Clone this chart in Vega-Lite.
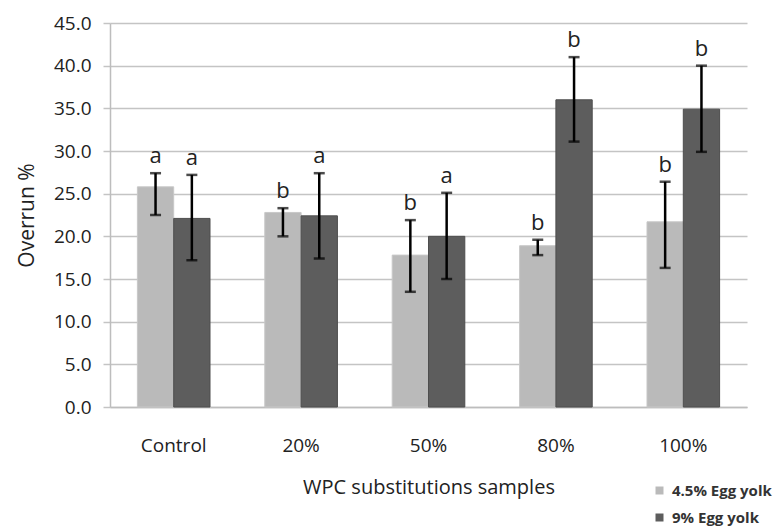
{
  "$schema": "https://vega.github.io/schema/vega-lite/v6.json",
  "autosize": {"type": "none"},
  "padding": {"left": 110, "top": 23, "right": 35, "bottom": 123},
  "width": 637,
  "height": 384,
  "background": "white",
  "data": {
    "values": [
      {"sample": "Control", "series": "4.5% Egg yolk", "value": 25.8, "lo": 22.5, "hi": 27.4, "letter": "a"},
      {"sample": "Control", "series": "9% Egg yolk", "value": 22.1, "lo": 17.2, "hi": 27.2, "letter": "a"},
      {"sample": "20%", "series": "4.5% Egg yolk", "value": 22.8, "lo": 20.0, "hi": 23.3, "letter": "b"},
      {"sample": "20%", "series": "9% Egg yolk", "value": 22.4, "lo": 17.4, "hi": 27.4, "letter": "a"},
      {"sample": "50%", "series": "4.5% Egg yolk", "value": 17.8, "lo": 13.5, "hi": 21.9, "letter": "b"},
      {"sample": "50%", "series": "9% Egg yolk", "value": 20.0, "lo": 15.0, "hi": 25.1, "letter": "a"},
      {"sample": "80%", "series": "4.5% Egg yolk", "value": 18.9, "lo": 17.8, "hi": 19.6, "letter": "b"},
      {"sample": "80%", "series": "9% Egg yolk", "value": 36.0, "lo": 31.1, "hi": 41.0, "letter": "b"},
      {"sample": "100%", "series": "4.5% Egg yolk", "value": 21.7, "lo": 16.3, "hi": 26.4, "letter": "b"},
      {"sample": "100%", "series": "9% Egg yolk", "value": 34.9, "lo": 29.9, "hi": 40.0, "letter": "b"}
    ]
  },
  "config": {
    "view": {"stroke": null},
    "font": "Open Sans",
    "axis": {"labelColor": "#222", "titleColor": "#222", "labelFont": "Open Sans", "titleFont": "Open Sans"}
  },
  "encoding": {
    "x": {
      "field": "sample", "type": "nominal",
      "sort": ["Control", "20%", "50%", "80%", "100%"],
      "scale": {"paddingInner": 0.43, "paddingOuter": 0.215},
      "axis": {
        "title": "WPC  substitutions samples", "labelAngle": 0, "ticks": false,
        "labelFontSize": 19, "labelPadding": 29, "titleFontSize": 20, "titleFontWeight": "normal",
        "titlePadding": 22, "domainColor": "#bdbdbd", "domainWidth": 1.5, "grid": false
      }
    },
    "xOffset": {"field": "series", "type": "nominal", "sort": ["4.5% Egg yolk", "9% Egg yolk"], "scale": {"paddingInner": 0, "paddingOuter": 0}}
  },
  "layer": [
    {
      "mark": {"type": "bar", "strokeWidth": 1},
      "encoding": {
        "y": {
          "field": "value", "type": "quantitative",
          "scale": {"domain": [0, 45], "nice": false},
          "axis": {
            "title": "Overrun %", "values": [0, 5, 10, 15, 20, 25, 30, 35, 40, 45], "format": ".1f",
            "labelFontSize": 19, "titleFontSize": 21, "titleFontWeight": "normal", "titlePadding": 16,
            "tickSize": 7, "tickColor": "#c4c4c4", "tickWidth": 1.5, "labelPadding": 12,
            "gridColor": "#c4c4c4", "gridWidth": 1.5, "domainColor": "#bdbdbd", "domainWidth": 1.5
          }
        },
        "color": {
          "field": "series", "type": "nominal",
          "scale": {"domain": ["4.5% Egg yolk", "9% Egg yolk"], "range": ["#bababa", "#5d5d5d"]},
          "legend": {
            "title": null, "orient": "none", "legendX": 542, "legendY": 460,
            "symbolType": "square", "symbolSize": 64, "symbolStrokeWidth": 0,
            "labelFontSize": 15, "labelFontWeight": "bold", "labelColor": "#333", "labelFont": "Open Sans",
            "rowPadding": 11, "labelOffset": 5
          }
        },
        "stroke": {
          "field": "series", "type": "nominal",
          "scale": {"domain": ["4.5% Egg yolk", "9% Egg yolk"], "range": ["#c8c8c8", "#4e4e4e"]},
          "legend": null
        }
      }
    },
    {
      "mark": {"type": "rule", "color": "black", "strokeWidth": 2.5},
      "encoding": {
        "y": {"field": "lo", "type": "quantitative"},
        "y2": {"field": "hi"}
      }
    },
    {
      "mark": {"type": "tick", "color": "black", "thickness": 2.5, "size": 11},
      "encoding": {"y": {"field": "lo", "type": "quantitative"}}
    },
    {
      "mark": {"type": "tick", "color": "black", "thickness": 2.5, "size": 11},
      "encoding": {"y": {"field": "hi", "type": "quantitative"}}
    },
    {
      "mark": {"type": "text", "fontSize": 22, "baseline": "bottom", "dy": -5, "color": "#222", "font": "Open Sans"},
      "encoding": {
        "y": {"field": "hi", "type": "quantitative"},
        "text": {"field": "letter"}
      }
    }
  ]
}
